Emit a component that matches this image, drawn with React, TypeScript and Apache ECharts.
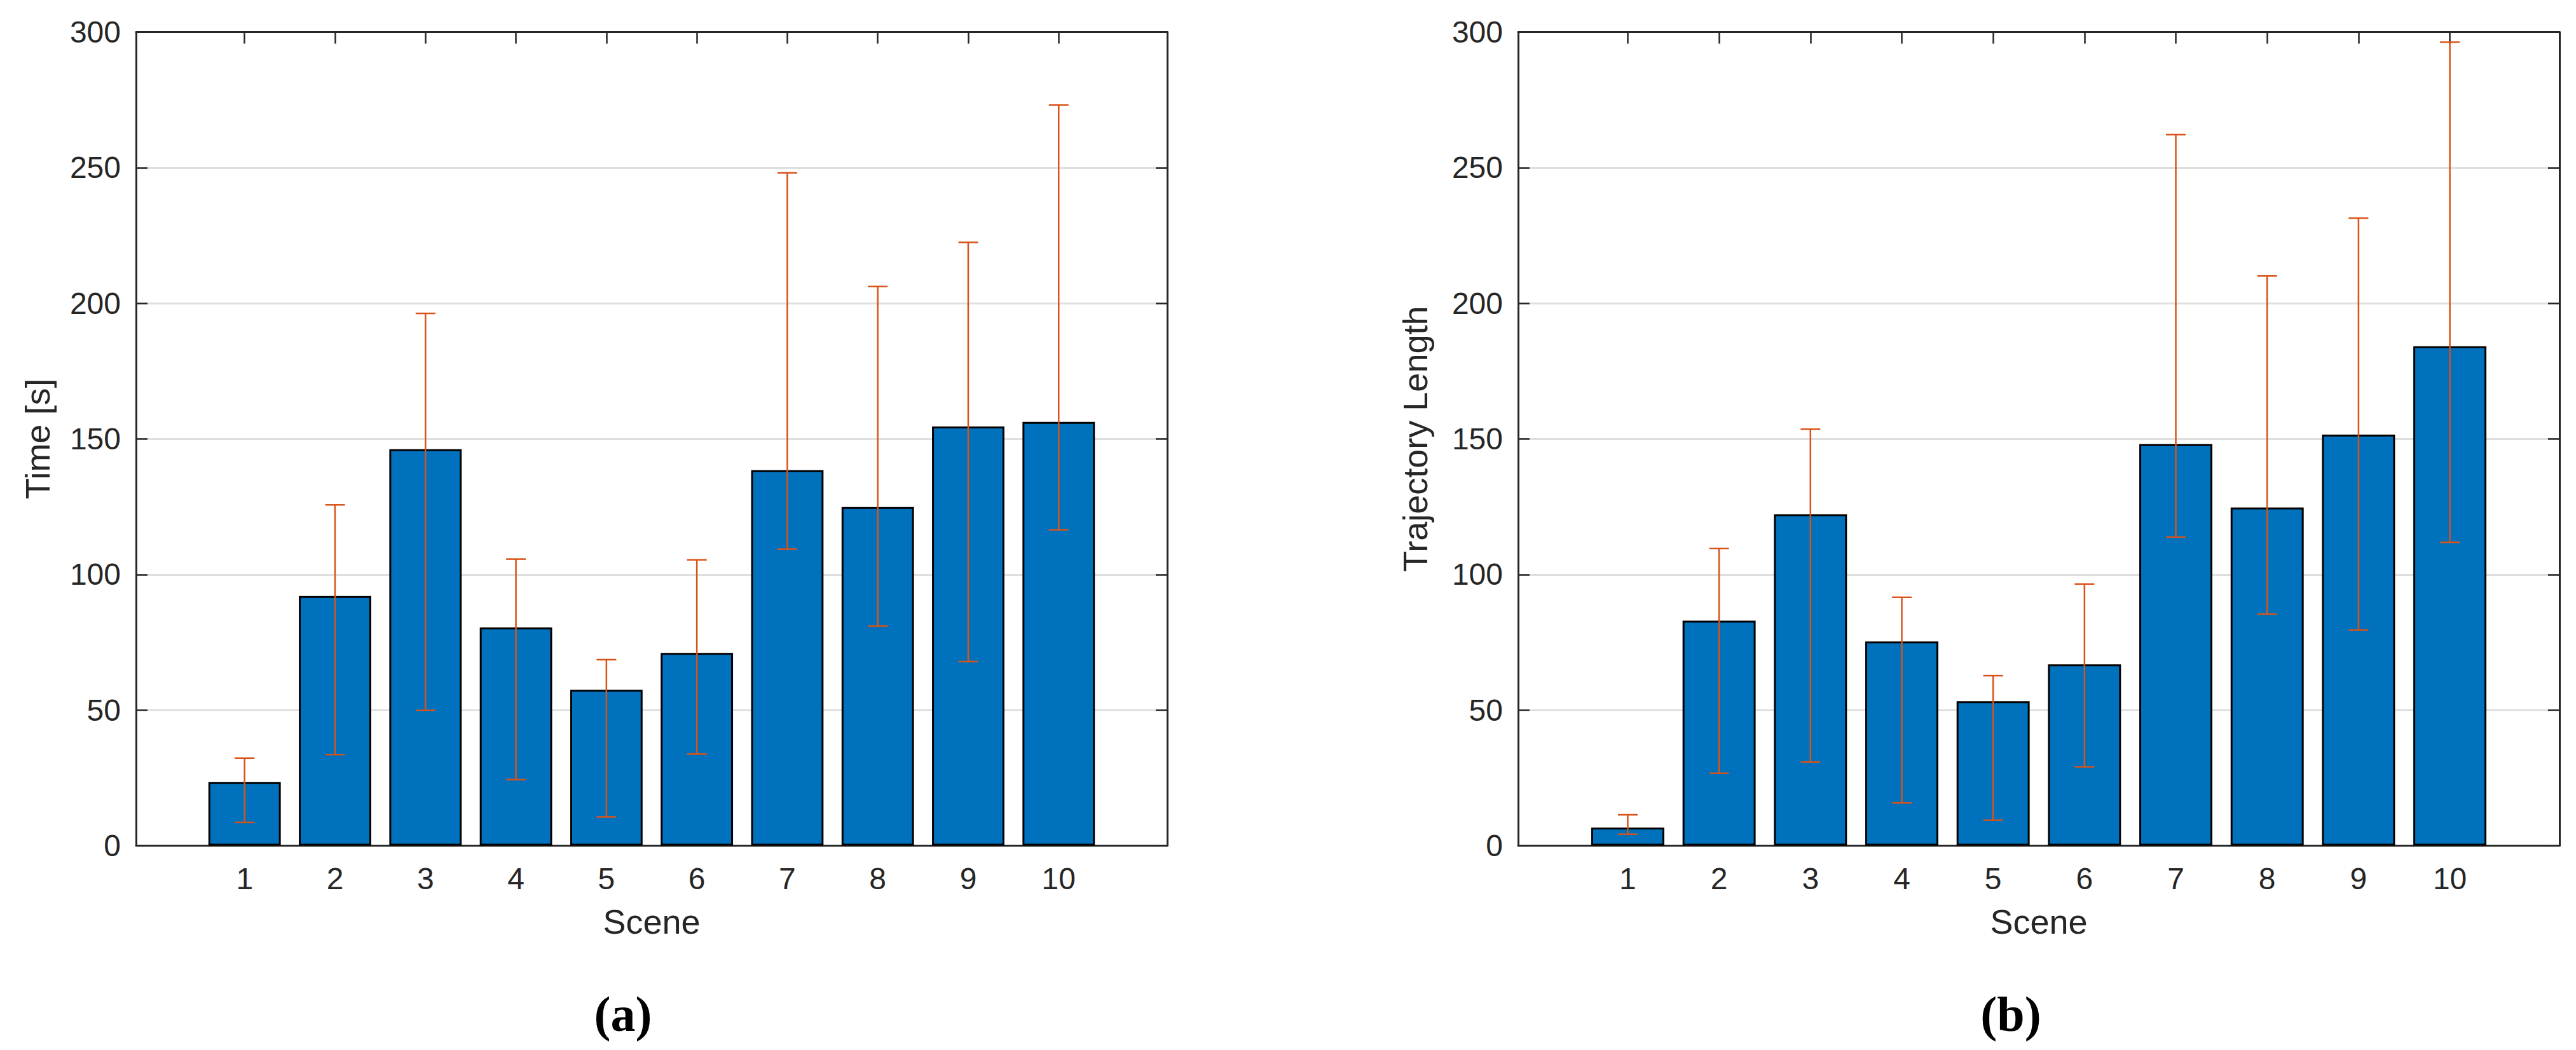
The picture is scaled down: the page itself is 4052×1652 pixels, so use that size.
import React, { useEffect, useRef } from "react";
import * as echarts from "echarts";

const scenes = [1, 2, 3, 4, 5, 6, 7, 8, 9, 10];
const timeMean = [23.5, 92.1, 146.2, 80.5, 57.5, 71.1, 138.5, 124.9, 154.6, 156.3];
const timeLow = [8.6, 33.6, 49.9, 24.4, 10.6, 33.8, 109.4, 81.0, 67.9, 116.5];
const timeHigh = [32.3, 125.7, 196.3, 105.7, 68.6, 105.4, 248.1, 206.2, 222.5, 273.1];
const lenMean = [6.7, 83.0, 122.2, 75.3, 53.3, 66.9, 148.1, 124.7, 151.6, 184.2];
const lenLow = [4.2, 26.7, 30.9, 15.8, 9.4, 29.1, 113.8, 85.4, 79.5, 111.9];
const lenHigh = [11.4, 109.6, 153.6, 91.6, 62.7, 96.5, 262.2, 210.1, 231.4, 296.3];
const yTicks = [0, 50, 100, 150, 200, 250, 300];

const TEXT = "#262626";
const FONT = "Liberation Sans";

export default function App() {
  const ref = useRef<HTMLDivElement>(null);
  useEffect(() => {
    if (!ref.current) return;
    const chart = echarts.init(ref.current, null, { renderer: "svg" });
    const top = 50.6;
    const height = 1280;
    const grids = [
      { left: 214, top, width: 1622, height },
      { left: 2388, top, width: 1638, height },
    ];
    const xMin = -0.2, xMax = 11.2;
    const axisLine = { show: true, onZero: false, lineStyle: { color: TEXT, width: 3 } };
    const tick = { show: true, inside: true, length: 18, lineStyle: { color: TEXT, width: 2.5 }, customValues: scenes };
    const xAxes: any[] = [];
    const yAxes: any[] = [];
    const names = ["Time [s]", "Trajectory Length"];
    const nameGaps = [128, 135];
    grids.forEach((g, i) => {
      xAxes.push({
        type: "value", gridIndex: i, position: "bottom", min: xMin, max: xMax,
        axisLine, axisTick: tick, splitLine: { show: false },
        axisLabel: { customValues: scenes, color: TEXT, fontFamily: FONT, fontSize: 48, margin: 28 },
        name: "Scene", nameLocation: "middle", nameGap: 92,
        nameTextStyle: { color: TEXT, fontFamily: FONT, fontSize: 54 },
      });
      xAxes.push({
        type: "value", gridIndex: i, position: "top", min: xMin, max: xMax,
        axisLine, axisTick: tick, axisLabel: { show: false }, splitLine: { show: false },
      });
      yAxes.push({
        type: "value", gridIndex: i, position: "left", min: 0, max: 300, interval: 50,
        axisLine, axisTick: { show: true, inside: true, length: 18, lineStyle: { color: TEXT, width: 2.5 } },
        axisLabel: { color: TEXT, fontFamily: FONT, fontSize: 48, margin: 24 },
        splitLine: { show: true, lineStyle: { color: "#dfdfdf", width: 3 } },
        name: names[i], nameLocation: "middle", nameGap: nameGaps[i],
        nameTextStyle: { color: TEXT, fontFamily: FONT, fontSize: 54 },
      });
      yAxes.push({
        type: "value", gridIndex: i, position: "right", min: 0, max: 300, interval: 50,
        axisLine, axisTick: { show: true, inside: true, length: 18, lineStyle: { color: TEXT, width: 2.5 } },
        axisLabel: { show: false }, splitLine: { show: false },
      });
    });

    const errRender = (params: any, api: any) => {
      const x = api.value(0), lo = api.value(1), hi = api.value(2);
      const pHi = api.coord([x, hi]);
      const pLo = api.coord([x, lo]);
      const hw = 15.5;
      const style = { stroke: "#D95319", lineWidth: 2.5, fill: "none" };
      return {
        type: "group",
        children: [
          { type: "line", shape: { x1: pHi[0], y1: pHi[1], x2: pLo[0], y2: pLo[1] }, style },
          { type: "line", shape: { x1: pHi[0] - hw, y1: pHi[1], x2: pHi[0] + hw, y2: pHi[1] }, style },
          { type: "line", shape: { x1: pLo[0] - hw, y1: pLo[1], x2: pLo[0] + hw, y2: pLo[1] }, style },
        ],
      };
    };

    const sets = [
      { mean: timeMean, low: timeLow, high: timeHigh },
      { mean: lenMean, low: lenLow, high: lenHigh },
    ];
    const series: any[] = [];
    sets.forEach((s, i) => {
      const bw = (0.8 * grids[i].width) / (xMax - xMin);
      series.push({
        type: "bar", xAxisIndex: i * 2, yAxisIndex: i * 2,
        data: scenes.map((c, k) => [c, s.mean[k]]),
        barWidth: bw,
        itemStyle: { color: "#0072BD", borderColor: "#000000", borderWidth: 3 },
        z: 2,
      });
      series.push({
        type: "custom", xAxisIndex: i * 2, yAxisIndex: i * 2,
        data: scenes.map((c, k) => [c, s.low[k], s.high[k]]),
        encode: { x: 0, y: [1, 2] },
        renderItem: errRender,
        z: 3,
      });
    });

    chart.setOption({
      animation: false,
      backgroundColor: "#ffffff",
      grid: grids,
      xAxis: xAxes,
      yAxis: yAxes,
      series,
      graphic: [
        { type: "text", x: 980, y: 1595, style: { text: "(a)", font: "bold 78px 'Liberation Serif'", fill: "#000", align: "center", verticalAlign: "middle" } },
        { type: "text", x: 3163, y: 1595, style: { text: "(b)", font: "bold 78px 'Liberation Serif'", fill: "#000", align: "center", verticalAlign: "middle" } },
      ],
    });
    return () => chart.dispose();
  }, []);
  return (
    <div
      ref={ref}
      style={{ position: "absolute", left: 0, top: 0, width: 4052, height: 1652, background: "#fff" }}
    />
  );
}
